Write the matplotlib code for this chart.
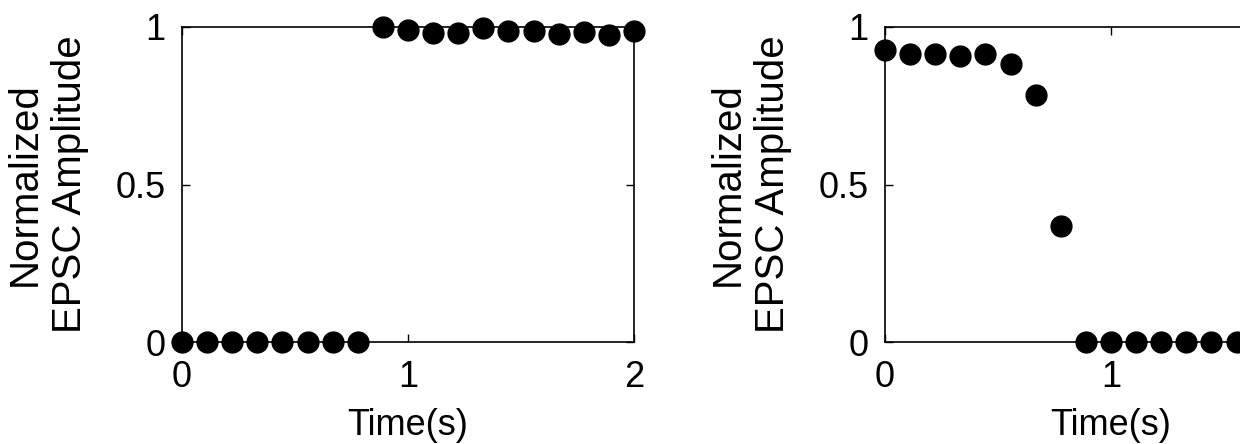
import numpy as np
import matplotlib
matplotlib.use('Agg')
import matplotlib.pyplot as plt

plt.rcParams['font.family'] = ['Liberation Sans', 'DejaVu Sans']

# 19 stimuli from 0 to 2 s
time_s = np.linspace(0, 2, 19)

# left panel: amplitude jumps to 1 after 0.8 s
amp_left = [0, 0, 0, 0, 0, 0, 0, 0,
            1.0, 0.992, 0.981, 0.981, 0.998, 0.988, 0.988, 0.977, 0.983, 0.975, 0.988]

# right panel: amplitude falls to 0 after 0.8 s
amp_right = [0.928, 0.915, 0.915, 0.908, 0.915, 0.884, 0.783, 0.367,
             0, 0, 0, 0, 0, 0, 0, 0, 0, 0, 0]

ylabel = 'Normalized\nEPSC Amplitude'
fs = 26

fig = plt.figure(figsize=(12.4, 4.44), dpi=100)
ax1 = fig.add_axes([0.1468, 0.2297, 0.3645, 0.7095])
ax2 = fig.add_axes([0.7137, 0.2297, 0.3645, 0.7095])

for ax, amp in [(ax1, amp_left), (ax2, amp_right)]:
    ax.plot(time_s, amp, 'o', color='black', markersize=15, clip_on=False, zorder=3)
    ax.set_xlim(0, 2)
    ax.set_ylim(0, 1)
    ax.set_xticks([0, 1, 2])
    ax.set_yticks([0, 0.5, 1])
    ax.set_yticklabels(['0', '0.5', '1'])
    ax.tick_params(direction='in', top=True, right=True, labelsize=fs,
                   length=6, width=1)
    ax.tick_params(axis='y', pad=12)
    ax.tick_params(axis='x', pad=13)
    for s in ax.spines.values():
        s.set_linewidth(1.2)
    ax.set_xlabel('Time(s)', fontsize=fs, labelpad=9)
    ax.set_ylabel(ylabel, fontsize=29, labelpad=19, linespacing=1.25)

ax1.set_xticklabels(['0', '1', '2'])
# right panel is cropped at the figure edge, so the "2" label falls outside
ax2.set_xticklabels(['0', '1', ''])

fig.savefig('out.png', dpi=100)
